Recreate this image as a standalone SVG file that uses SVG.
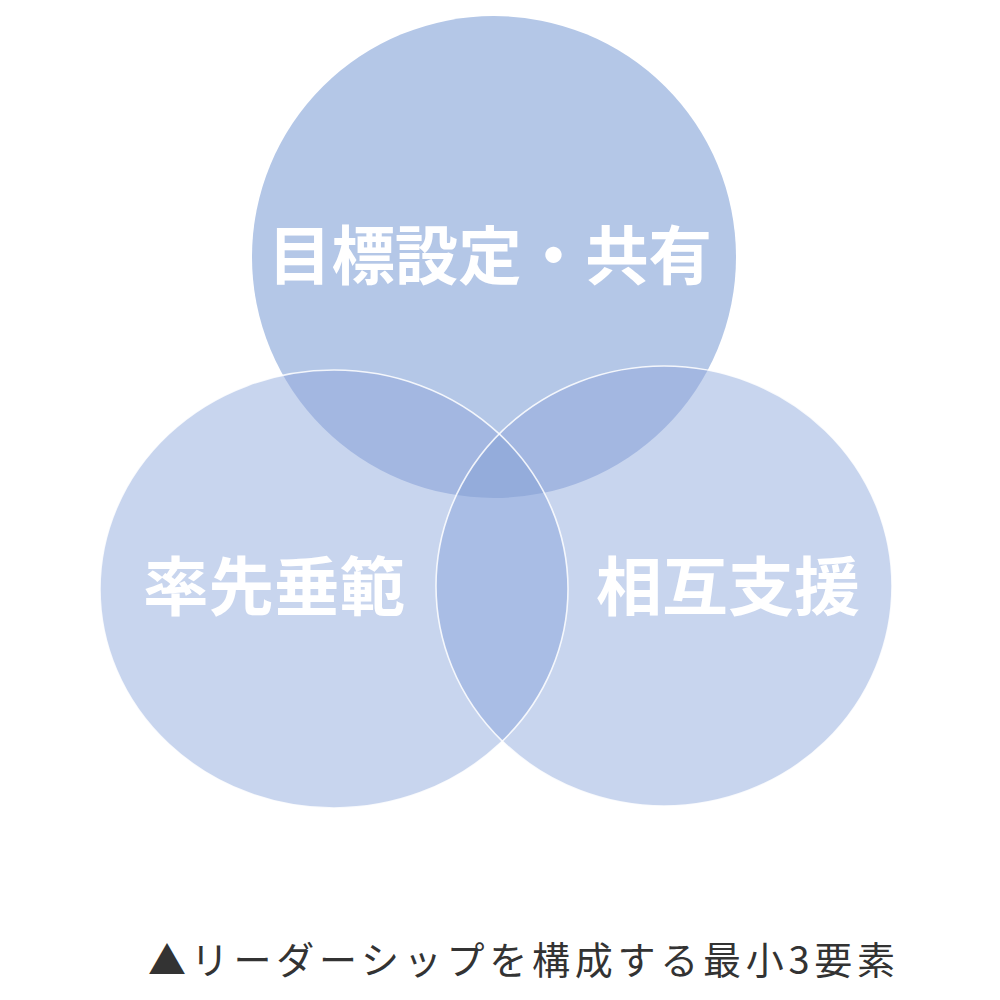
<svg xmlns="http://www.w3.org/2000/svg" width="1000" height="1000" viewBox="0 0 1000 1000">
<style>
.lbl{font-family:"Noto Sans CJK JP","Noto Sans CJK SC",sans-serif;font-weight:700;fill:#ffffff;text-anchor:middle}
.cap{font-family:"Noto Sans CJK JP","Noto Sans CJK SC",sans-serif;font-weight:400;fill:#333333}
.edge{fill:none;stroke:#ffffff;stroke-width:1.6;stroke-opacity:0.85}
</style>
<defs>
<clipPath id="cTop"><ellipse cx="494" cy="257" rx="242" ry="241"/></clipPath>
<clipPath id="cLeft"><ellipse cx="334" cy="589" rx="234" ry="219"/></clipPath>
<clipPath id="cRight"><ellipse cx="664" cy="586" rx="228" ry="220"/></clipPath>
</defs>
<rect width="1000" height="1000" fill="#ffffff"/>
<g id="node-top">
<ellipse cx="494" cy="257" rx="242" ry="241" fill="#b4c7e7"/>
</g>
<g id="node-left">
<ellipse cx="334" cy="589" rx="234" ry="219" fill="#c8d5ee"/>
</g>
<g id="node-right">
<ellipse cx="664" cy="586" rx="228" ry="220" fill="#c8d5ee"/>
</g>
<g id="overlaps">
<ellipse cx="334" cy="589" rx="234" ry="219" fill="#a3b7e1" clip-path="url(#cTop)"/>
<ellipse cx="664" cy="586" rx="228" ry="220" fill="#a3b7e1" clip-path="url(#cTop)"/>
<ellipse cx="334" cy="589" rx="234" ry="219" fill="#a9bde5" clip-path="url(#cRight)"/>
<g clip-path="url(#cTop)">
<ellipse cx="334" cy="589" rx="234" ry="219" fill="#94acdb" clip-path="url(#cRight)"/>
</g>
</g>
<g id="connectors">
<ellipse class="edge" cx="334" cy="589" rx="234" ry="219"/>
<ellipse class="edge" cx="664" cy="586" rx="228" ry="220" stroke-opacity="0.6"/>
</g>
<g id="labels">
<text class="lbl" x="490" y="279" font-size="64" textLength="444" lengthAdjust="spacingAndGlyphs">目標設定・共有</text>
<text class="lbl" x="274" y="610" font-size="64" textLength="262" lengthAdjust="spacingAndGlyphs">率先垂範</text>
<text class="lbl" x="728" y="610" font-size="64" textLength="264" lengthAdjust="spacingAndGlyphs">相互支援</text>
</g>
<g id="caption">
<text class="cap" x="148" y="974" font-size="38" textLength="747" lengthAdjust="spacing">▲リーダーシップを構成する最小3要素</text>
</g>
</svg>
